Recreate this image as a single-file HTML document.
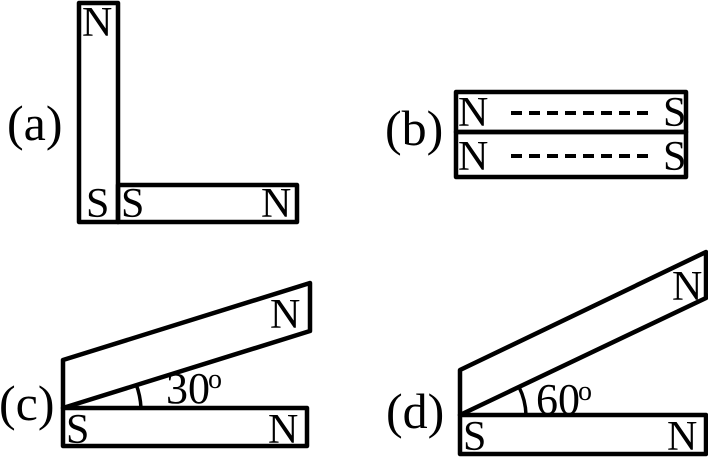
<!DOCTYPE html>
<html><head><meta charset="utf-8"><style>
html,body{margin:0;padding:0;background:#fff;width:708px;height:458px;overflow:hidden}
svg text{font-family:"Liberation Serif",serif;fill:#000}
</style></head><body>
<svg width="708" height="458" viewBox="0 0 708 458" xmlns="http://www.w3.org/2000/svg">
<g fill="none" stroke="#000" stroke-width="4.5" stroke-linejoin="round">
<rect x="79" y="3" width="39" height="219"/>
<rect x="118" y="185" width="179" height="37"/>
<rect x="456" y="92" width="230" height="40"/>
<rect x="456" y="132" width="230" height="45"/>
<line x1="511" y1="113" x2="655" y2="113" stroke-dasharray="11,7" stroke-width="4"/>
<line x1="511" y1="156" x2="655" y2="156" stroke-dasharray="11,7" stroke-width="4"/>
<rect x="63" y="408" width="244" height="38"/>
<polygon points="63,408 63,360 310,283 310,331"/>
<path d="M141,408 A78,78 0 0 0 136,384" stroke-width="3.5"/>
<rect x="460" y="415" width="246" height="39"/>
<polygon points="460,415 460,370 706,252 706,298"/>
<path d="M526,415 A66,66 0 0 0 519,387" stroke-width="3.5"/>
</g>
<g font-size="42">
<text x="82" y="36">N</text>
<text x="86" y="217">S</text>
<text x="121" y="217">S</text>
<text x="261" y="217">N</text>
<text x="458" y="126">N</text>
<text x="663" y="126">S</text>
<text x="458" y="170">N</text>
<text x="663" y="170">S</text>
<text x="66" y="443">S</text>
<text x="268" y="443">N</text>
<text x="270" y="328">N</text>
<text x="667" y="450">N</text>
<text x="463" y="450">S</text>
<text x="672" y="300">N</text>
</g>
<g font-size="50">
<text x="7" y="140">(a)</text>
<text x="385" y="145">(b)</text>
<text x="-1" y="420">(c)</text>
<text x="386" y="428">(d)</text>
</g>
<g font-size="44">
<text x="166" y="403">30</text>
<text x="536" y="414">60</text>
</g>
<g font-size="28">
<text x="208" y="388">o</text>
<text x="578" y="400">o</text>
</g>
</svg>
</body></html>
